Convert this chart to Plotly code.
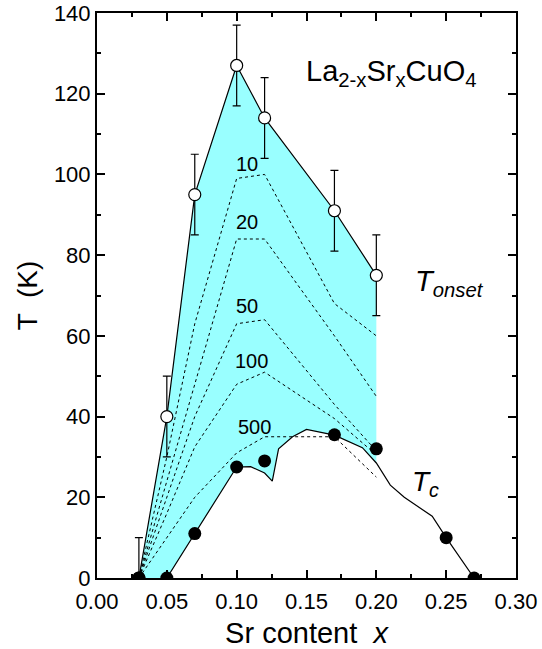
import plotly.graph_objects as go

# ---- data ----
onset_x = [0.03, 0.05, 0.07, 0.10, 0.12, 0.17, 0.20]
onset_T = [0, 40, 95, 127, 114, 91, 75]
onset_err = [10, 10, 10, 10, 10, 10, 10]

tc_pts_x = [0.03, 0.05, 0.07, 0.10, 0.12, 0.17, 0.20, 0.25, 0.27]
tc_pts_T = [0, 0, 11, 27.5, 29, 35.5, 32, 10, 0]

tc_line_x = [0.05, 0.07, 0.10, 0.11, 0.12, 0.1255, 0.13, 0.14, 0.15, 0.17, 0.19,
             0.20, 0.21, 0.22, 0.24, 0.25, 0.27]
tc_line_T = [0, 11, 27.5, 27.6, 26, 24, 32, 35, 36.8, 35.4, 32.3,
             28.5, 23, 20, 15.3, 10, 0]

contour_x = [0.03, 0.05, 0.07, 0.10, 0.12, 0.17, 0.20]
contour_10 = [0, 30, 63, 99, 100, 68, 60]
contour_20 = [0, 24, 48, 84, 84, 60, 45]
contour_50 = [0, 20, 40, 63, 64, 43, 31.5]
contour_100 = [0, 16, 32.5, 48, 51, 39.5, 30.5]
contour_500 = [0, 10, 20, 31, 35, 35, 25]
contour_labels = ["10", "20", "50", "100", "500"]
contours = [contour_10, contour_20, contour_50, contour_100, contour_500]

x_ticks = [0.00, 0.05, 0.10, 0.15, 0.20, 0.25, 0.30]
y_ticks = [0, 20, 40, 60, 80, 100, 120, 140]

FONT = "Arial, Liberation Sans, sans-serif"

fig = go.Figure()

# cyan region between Tonset and Tc (x <= 0.20)
low_x = [x for x in tc_line_x if x <= 0.20]
low_T = [t for x, t in zip(tc_line_x, tc_line_T) if x <= 0.20]
fill_x = onset_x + low_x[::-1]
fill_T = onset_T + low_T[::-1]
fig.add_trace(go.Scatter(x=fill_x, y=fill_T, mode="lines", fill="toself",
                         fillcolor="#99FFFF", line=dict(width=0),
                         hoverinfo="skip", showlegend=False))

# dashed contour lines
for vals in contours:
    fig.add_trace(go.Scatter(x=contour_x, y=vals, mode="lines",
                             line=dict(color="black", width=1, dash="3px,3px"),
                             showlegend=False))

# Tc line
fig.add_trace(go.Scatter(x=tc_line_x, y=tc_line_T, mode="lines",
                         line=dict(color="black", width=1.2), showlegend=False))

# Tonset line with error bars and open circles
fig.add_trace(go.Scatter(x=onset_x, y=onset_T, mode="lines+markers",
                         line=dict(color="black", width=1.2),
                         marker=dict(size=12, color="white",
                                     line=dict(color="black", width=1.2)),
                         error_y=dict(type="data", array=onset_err, color="black",
                                      thickness=1.2, width=4),
                         showlegend=False))

# Tc filled points
fig.add_trace(go.Scatter(x=tc_pts_x, y=tc_pts_T, mode="markers",
                         marker=dict(size=13, color="black"), showlegend=False))

# contour labels
label_pos = [(0.1076, 102.7), (0.1076, 88.3), (0.1076, 67.4), (0.1107, 53.8), (0.1129, 37.5)]
for lab, (lx, ly) in zip(contour_labels, label_pos):
    fig.add_annotation(x=lx, y=ly, text=lab, showarrow=False,
                       font=dict(family=FONT, size=20, color="black"),
                       xanchor="center", yanchor="middle")

fig.add_annotation(x=0.2107, y=125.2, text="La<sub>2-x</sub>Sr<sub>x</sub>CuO<sub>4</sub>",
                   showarrow=False, font=dict(family=FONT, size=29, color="black"),
                   xanchor="center", yanchor="middle")
fig.add_annotation(x=0.226, y=73, text="<i>T</i><sub><i>onset</i></sub>",
                   showarrow=False, font=dict(family=FONT, size=29, color="black"),
                   xanchor="left", yanchor="middle")
fig.add_annotation(x=0.224, y=23.5, text="<i>T</i><sub><i>c</i></sub>",
                   showarrow=False, font=dict(family=FONT, size=28, color="black"),
                   xanchor="left", yanchor="middle")

axis_common = dict(showgrid=False, zeroline=False, showline=True, linewidth=2,
                   linecolor="black", mirror="ticks", ticks="inside", ticklen=8,
                   tickwidth=1.5, tickcolor="black", automargin=False,
                   ticklabeloverflow="allow",
                   tickfont=dict(family=FONT, size=22, color="black"))

fig.update_xaxes(range=[0, 0.30], tickvals=x_ticks,
                 ticktext=[f"{v:.2f}" for v in x_ticks],
                 ticklabelstandoff=3,
                 minor=dict(ticks="inside", ticklen=4, dtick=0.025, tick0=0,
                            tickwidth=1.5, tickcolor="black"),
                 title=dict(text="Sr content  <i>x</i>", standoff=10,
                            font=dict(family=FONT, size=29, color="black")),
                 **axis_common)
fig.update_yaxes(range=[0, 140], tickvals=y_ticks,
                 ticktext=[str(v) for v in y_ticks],
                 minor=dict(ticks="inside", ticklen=4, dtick=10, tick0=0,
                            tickwidth=1.5, tickcolor="black"),
                 title=dict(text="T  (K)", standoff=8,
                            font=dict(family=FONT, size=28, color="black")),
                 **axis_common)

fig.update_layout(width=542, height=649, margin=dict(l=97, r=26, t=13, b=71),
                  plot_bgcolor="white", paper_bgcolor="white")

# remove the default page margin so the figure fills the window exactly
fig.write_html("out.html", config={"displayModeBar": False},
               post_script="document.body.style.margin='0';")
